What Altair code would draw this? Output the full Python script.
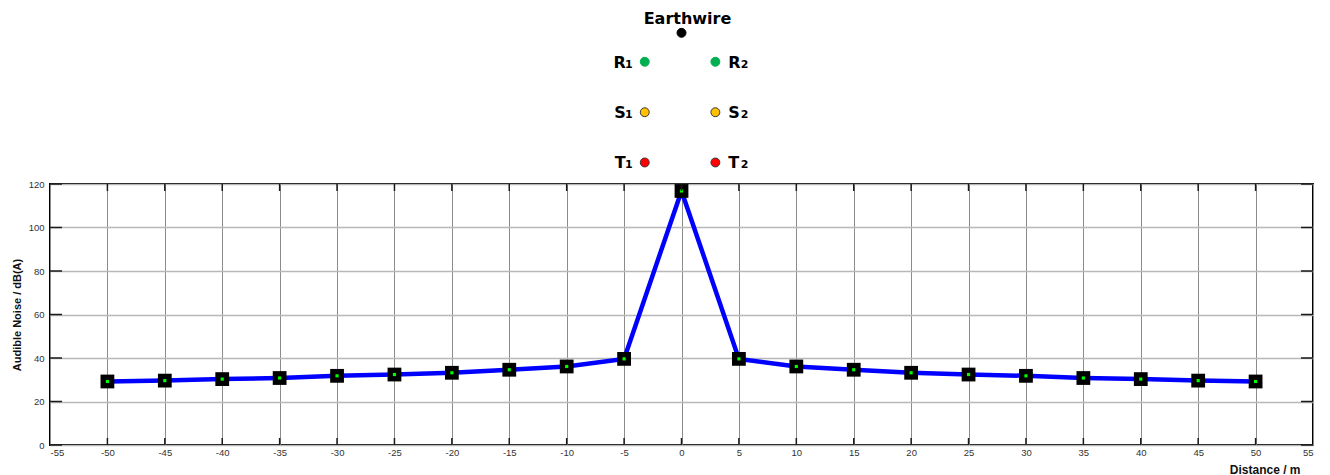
import altair as alt
import pandas as pd

# ---- data ----
distance = [-50, -45, -40, -35, -30, -25, -20, -15, -10, -5, 0,
            5, 10, 15, 20, 25, 30, 35, 40, 45, 50]
noise = [29.2, 29.6, 30.3, 30.8, 31.8, 32.4, 33.2, 34.6, 36.1, 39.6, 116.8,
         39.6, 36.1, 34.6, 33.2, 32.4, 31.8, 30.8, 30.3, 29.6, 29.2]

x_ticks = list(range(-55, 56, 5))
x_inner_ticks = list(range(-50, 51, 5))
y_ticks = [0, 20, 40, 60, 80, 100, 120]

# tower diagram (conductor positions drawn above the plot)
cond_name = ["Earthwire", "R1", "R2", "S1", "S2", "T1", "T2"]
cond_x = [0.0, -3.2, 2.95, -3.2, 2.95, -3.2, 2.95]
cond_h = [189.5, 176.2, 176.2, 153.0, 153.0, 129.9, 129.9]
cond_letter = ["", "R", "R", "S", "S", "T", "T"]
cond_digit = ["", "1", "2", "1", "2", "1", "2"]
cond_side = ["mid", "left", "right", "left", "right", "left", "right"]
cond_fill = ["#000000", "#00b050", "#00b050", "#ffc000", "#ffc000", "#ff0000", "#ff0000"]
cond_stroke = ["#000000", "#00b050", "#00b050", "#3a3a3a", "#3a3a3a", "#3a3a3a", "#3a3a3a"]
earthwire_title = "Earthwire"
earthwire_title_h = 195.9

W, H = 1263, 261

df = pd.DataFrame({"d": distance, "n": noise})
cond = pd.DataFrame({"d": cond_x, "n": cond_h, "let": cond_letter, "dig": cond_digit,
                     "side": cond_side, "fill": cond_fill, "stroke": cond_stroke,
                     "name": cond_name})
xt = pd.DataFrame({"d": x_inner_ticks})
yt = pd.DataFrame({"n": y_ticks})
ew = pd.DataFrame({"d": [0.0], "n": [earthwire_title_h], "lab": [earthwire_title]})

xscale = alt.Scale(domain=[-55, 55], nice=False, zero=False)
yscale = alt.Scale(domain=[0, 120], nice=False, zero=False)

x_axis = alt.Axis(values=x_ticks, title="Distance / m", grid=True,
                  gridColor="#8c8c8c", gridWidth=1,
                  domain=False, ticks=False, labelPadding=2,
                  labelExpr="toString(datum.value)",
                  labelFontSize=9.5, labelColor="#333333",
                  titleFontSize=12, titleFontWeight="bold",
                  titleColor="#111111",
                  titleX=1250, titleY=24, titleAlign="right",
                  titleBaseline="middle")
y_axis = alt.Axis(values=y_ticks, title="Audible Noise / dB(A)", grid=True,
                  gridColor="#b8b8b8", gridWidth=1.3,
                  domain=False, ticks=False, labelPadding=6,
                  labelFontSize=9.5, labelColor="#333333",
                  titleFontSize=11, titleFontWeight="bold",
                  titleColor="#111111",
                  titleX=-33, titleY=H / 2, titleAngle=-90,
                  titleAlign="center", titleBaseline="middle")

xs = alt.X("d:Q", scale=xscale, axis=x_axis, title="Distance / m")
ys = alt.Y("n:Q", scale=yscale, axis=y_axis, title="Audible Noise / dB(A)")

line = alt.Chart(df).mark_line(color="#0000ff", strokeWidth=4.5).encode(x=xs, y=ys)
sq = alt.Chart(df).mark_square(color="#000000", size=190, opacity=1).encode(x=xs, y=ys)
dot = alt.Chart(df).mark_square(color="#00ff00", size=10, opacity=1).encode(x=xs, y=ys)

tick_style = dict(color="#1a1a1a", strokeWidth=1.5)
bt = alt.Chart(xt).mark_rule(**tick_style).encode(x=xs, y=alt.value(H - 7), y2=alt.value(H))
tt = alt.Chart(xt).mark_rule(**tick_style).encode(x=xs, y=alt.value(0), y2=alt.value(7))
lt = alt.Chart(yt).mark_rule(**tick_style).encode(y=ys, x=alt.value(0), x2=alt.value(12))
rt = alt.Chart(yt).mark_rule(**tick_style).encode(y=ys, x=alt.value(W - 12), x2=alt.value(W))

cdots = alt.Chart(cond).mark_circle(size=80, opacity=1, strokeWidth=1).encode(
    x=xs, y=ys,
    fill=alt.Fill("fill:N", scale=None),
    stroke=alt.Stroke("stroke:N", scale=None))

FONT = "DejaVu Sans"
let_style = dict(font=FONT, fontWeight="bold", fontSize=16, color="#000000",
                 baseline="alphabetic", dy=6)
dig_style = dict(font=FONT, fontWeight="bold", fontSize=11, color="#000000",
                 baseline="alphabetic", dy=6)
left = alt.Chart(cond).transform_filter(alt.datum.side == "left")
right = alt.Chart(cond).transform_filter(alt.datum.side == "right")
l_let = left.mark_text(align="right", dx=-19, **let_style).encode(x=xs, y=ys, text="let:N")
l_dig = left.mark_text(align="right", dx=-12, **dig_style).encode(x=xs, y=ys, text="dig:N")
r_let = right.mark_text(align="left", dx=13, **let_style).encode(x=xs, y=ys, text="let:N")
r_dig = right.mark_text(align="right", dx=33, **dig_style).encode(x=xs, y=ys, text="dig:N")
ewt = alt.Chart(ew).mark_text(align="center", font=FONT, fontWeight="bold", dx=6,
                              fontSize=16, color="#000000", baseline="middle").encode(
    x=xs, y=ys, text="lab:N")

chart = alt.layer(line, sq, dot, bt, tt, lt, rt, cdots,
                  l_let, l_dig, r_let, r_dig, ewt).properties(
    width=W, height=H,
    autosize=alt.AutoSizeParams(type="none"),
    padding={"left": 42, "top": 176, "right": 9, "bottom": 30},
    background="white",
).configure_view(stroke="#000000", strokeWidth=2).configure_axis(
    labelFont="Liberation Sans", titleFont="Liberation Sans")

chart.save("out.html", embed_options={"renderer": "svg", "actions": False})
